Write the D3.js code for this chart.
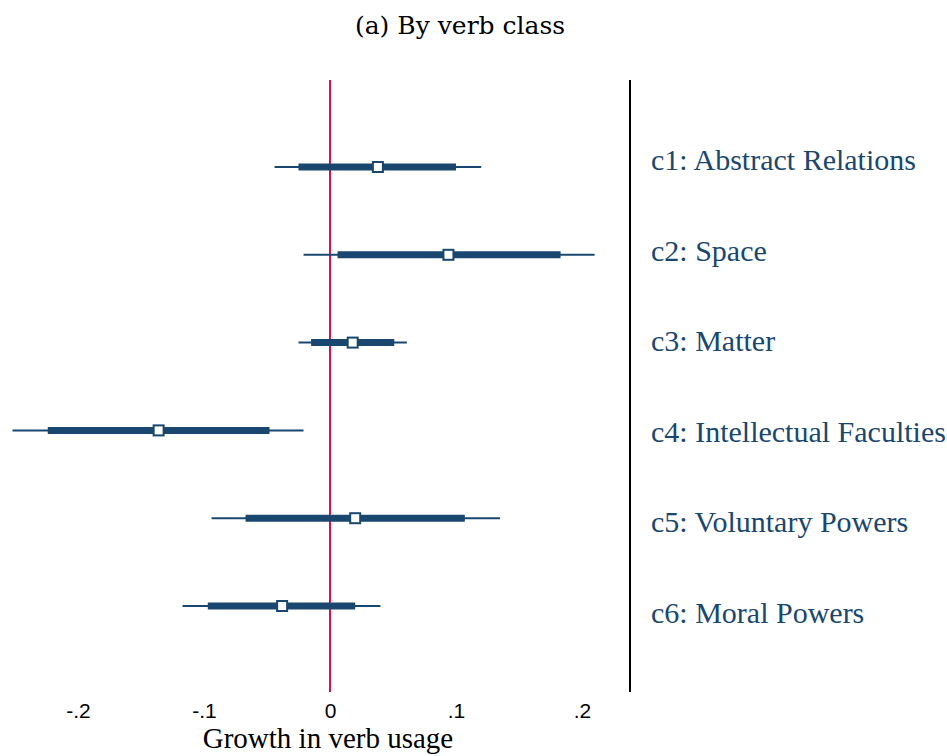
<!DOCTYPE html>
<html>
<head>
<meta charset="utf-8" />
<title>By verb class</title>
<script src="https://d3js.org/d3.v7.min.js"></script>
<style>
  body { margin: 0; background: #fff; }
</style>
</head>
<body>
<svg id="chart" width="947" height="756"></svg>
<script>
// verb classes, top to bottom
var classes = ["c1: Abstract Relations", "c2: Space", "c3: Matter",
               "c4: Intellectual Faculties", "c5: Voluntary Powers", "c6: Moral Powers"];
// point estimates
var estimates = [0.038, 0.094, 0.018, -0.136, 0.020, -0.038];
// inner (thick) interval
var innerLo = [-0.025, 0.006, -0.015, -0.224, -0.067, -0.097];
var innerHi = [0.100, 0.183, 0.051, -0.048, 0.107, 0.020];
// outer (thin) interval
var outerLo = [-0.044, -0.021, -0.025, -0.252, -0.094, -0.117];
var outerHi = [0.120, 0.210, 0.061, -0.021, 0.135, 0.040];
var tickValues = [-0.2, -0.1, 0, 0.1, 0.2];
var tickLabels = ["-.2", "-.1", "0", ".1", ".2"];

var navy = "#1a476f";
var svg = d3.select("#chart");

var x = d3.scaleLinear().domain([0, 0.1]).range([330, 456]);
var y = d3.scalePoint().domain(classes).range([167, 606]);
// the label column is spaced a little differently from the plot rows
var yLab = d3.scalePoint().domain(classes).range([162, 615]);

// title
svg.append("text")
  .attr("x", 460).attr("y", 34)
  .attr("text-anchor", "middle")
  .style("font-family", "DejaVu Serif")
  .style("font-size", "25px")
  .text("(a) By verb class");

// zero line
svg.append("line")
  .attr("x1", x(0)).attr("x2", x(0))
  .attr("y1", 80).attr("y2", 692)
  .attr("stroke", "#d1134f").attr("stroke-width", 2);

// right border line
svg.append("line")
  .attr("x1", 630).attr("x2", 630)
  .attr("y1", 80).attr("y2", 692)
  .attr("stroke", "#000").attr("stroke-width", 2);

var rows = classes.map(function(c, i) {
  return { name: c, est: estimates[i], ilo: innerLo[i], ihi: innerHi[i], olo: outerLo[i], ohi: outerHi[i] };
});

var g = svg.selectAll("g.row").data(rows).join("g").attr("class", "row");

g.append("line")
  .attr("x1", function(d) { return x(d.olo); })
  .attr("x2", function(d) { return x(d.ohi); })
  .attr("y1", function(d) { return y(d.name); })
  .attr("y2", function(d) { return y(d.name); })
  .attr("stroke", navy).attr("stroke-width", 2);

g.append("line")
  .attr("x1", function(d) { return x(d.ilo); })
  .attr("x2", function(d) { return x(d.ihi); })
  .attr("y1", function(d) { return y(d.name); })
  .attr("y2", function(d) { return y(d.name); })
  .attr("stroke", navy).attr("stroke-width", 7);

g.append("rect")
  .attr("x", function(d) { return x(d.est) - 5; })
  .attr("y", function(d) { return y(d.name) - 5; })
  .attr("width", 10).attr("height", 10)
  .attr("fill", "#fff").attr("stroke", navy).attr("stroke-width", 2);

// class labels
g.append("text")
  .attr("x", 651)
  .attr("y", function(d) { return yLab(d.name) + 8; })
  .style("font-family", "Liberation Serif")
  .style("font-size", "30px")
  .attr("fill", navy)
  .text(function(d) { return d.name; });

// x axis labels
var axis = d3.axisBottom(x).tickValues(tickValues)
  .tickFormat(function(d, i) { return tickLabels[i]; })
  .tickSize(0);
var ax = svg.append("g").attr("transform", "translate(0,718)").call(axis);
ax.select(".domain").remove();
ax.selectAll("text")
  .style("font-family", "Liberation Sans")
  .style("font-size", "21px")
  .attr("fill", "#000")
  .attr("y", 0)
  .attr("dy", "0");

svg.append("text")
  .attr("x", 328).attr("y", 748)
  .attr("text-anchor", "middle")
  .style("font-family", "Liberation Serif")
  .style("font-size", "29px")
  .text("Growth in verb usage");
</script>
</body>
</html>
